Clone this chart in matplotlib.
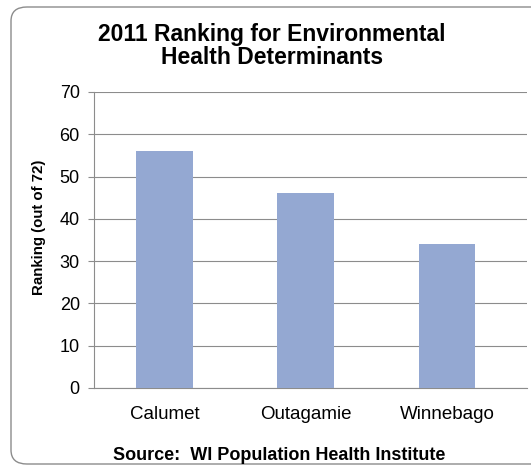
import matplotlib.pyplot as plt
from matplotlib.patches import FancyBboxPatch

counties = ['Calumet', 'Outagamie', 'Winnebago']
rankings = [56, 46, 34]
yticks = [0, 10, 20, 30, 40, 50, 60, 70]

plt.rcParams['font.family'] = ['Liberation Sans', 'DejaVu Sans']

W, H = 531, 466
fig = plt.figure(figsize=(W / 100, H / 100), dpi=100)

# rounded chart border (runs off the right edge like the original)
border = FancyBboxPatch((11 / W, 2 / H), 540 / W, 457 / H,
                        boxstyle='round,pad=0,rounding_size=0.03',
                        transform=fig.transFigure, facecolor='white',
                        edgecolor='#8c8c8c', linewidth=1.0, zorder=-1)
fig.patches.append(border)

ax = fig.add_axes([93.75 / W, 78 / H, 433 / W, 296 / H])
ax.bar(range(len(counties)), rankings, width=0.4, color='#94a8d2', zorder=3)

ax.set_xlim(-0.5, 2.5 + 9 / 141.5)
ax.set_ylim(0, 70)
ax.set_yticks(yticks)
ax.set_xticks(range(len(counties)))
ax.set_xticklabels(counties, fontsize=13.5)
ax.tick_params(axis='y', labelsize=13, length=4, color='#8c8c8c', pad=6)
ax.tick_params(axis='x', length=0, pad=13)
ax.grid(axis='y', color='#8c8c8c', linewidth=0.8, zorder=0)

for side in ['top', 'right']:
    ax.spines[side].set_visible(False)
for side in ['left', 'bottom']:
    ax.spines[side].set_color('#8c8c8c')
    ax.spines[side].set_linewidth(0.8)

fig.text(39.5 / W, 0.512, 'Ranking (out of 72)', rotation=90,
         ha='center', va='center', fontsize=10.8, fontweight='bold')

fig.text(272 / W, 0.902, '2011 Ranking for Environmental\nHealth Determinants',
         ha='center', va='center', fontsize=16.5, fontweight='bold', linespacing=1.0)
fig.text(279 / W, 11 / H, 'Source:  WI Population Health Institute',
         ha='center', va='center', fontsize=13, fontweight='bold')

fig.savefig('out.png', dpi=100)
